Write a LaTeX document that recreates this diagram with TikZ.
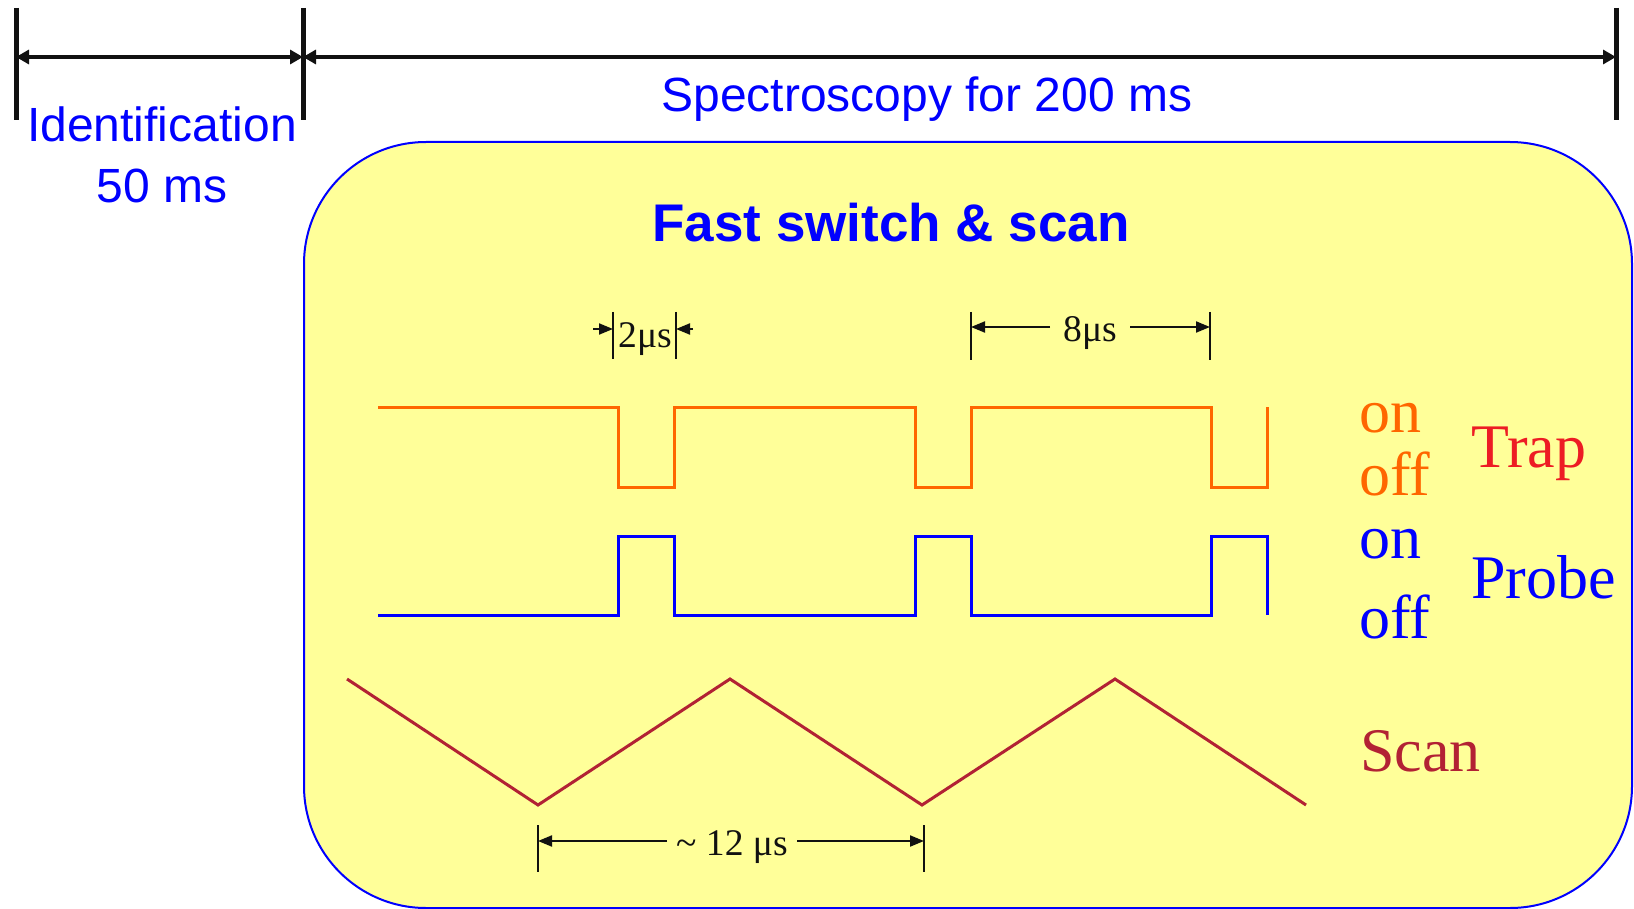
\documentclass[tikz,border=0pt]{standalone}
\usepackage{fontspec}
\setmainfont{Liberation Serif}
\setsansfont{Liberation Sans}
\usetikzlibrary{arrows.meta, positioning}
\definecolor{cblue}{HTML}{0000FF}
\definecolor{corange}{HTML}{FF6600}
\definecolor{cred}{HTML}{ED1C24}
\definecolor{cscan}{HTML}{B22234}
\definecolor{cyellow}{HTML}{FFFF99}
\definecolor{cblack}{HTML}{111111}
\tikzset{
  tick/.style={draw=cblack, line width=2.5pt},
  span/.style={{Triangle[length=6.5pt, width=7pt]}-{Triangle[length=6.5pt, width=7pt]}, draw=cblack, line width=1.6pt},
  dimtick/.style={draw=cblack, line width=0.6pt},
  dim/.style={-{Triangle[length=7pt, width=5.5pt]}, draw=cblack, line width=1pt},
  dimlabel/.style={font=\fontsize{18.8}{20}\selectfont, text=cblack, inner sep=0pt, anchor=base},
  head/.style={font=\sffamily\fontsize{24}{28}\selectfont, text=cblue, inner sep=0pt, anchor=base},
  panel/.style={draw=cblue, fill=cyellow, line width=1pt, rounded corners=61pt},
  wave/.style={line width=1.5pt, line join=miter},
  level/.style={font=\fontsize{31}{34}\selectfont, inner sep=0pt, anchor=base west},
}

\begin{document}
\begin{tikzpicture}[x=0.5pt, y=-0.5pt]
  \useasboundingbox (0,0) rectangle (1634,909);
  % time line: identification, then spectroscopy
  \coordinate (ta) at (16,57);
  \coordinate (tb) at (303,57);
  \coordinate (tc) at (1616,57);
  \foreach \c in {ta,tb,tc}
    \draw[tick] ([yshift=24.5pt]\c) -- ([yshift=-31.5pt]\c);
  \draw[span] (ta) -- (tb);
  \draw[span] (tb) -- (tc);
  \node[head] (ident) at (162,142) {Identification};
  \node[head] (identms) at (162,203) {50 ms};
  \node[head] (spec) at (927,112) {Spectroscopy for 200 ms};
  % yellow panel
  \draw[panel] (304,142) rectangle (1632,908);
  \node[font=\sffamily\bfseries\fontsize{26.5}{30}\selectfont, text=cblue, inner sep=0pt, anchor=base] (title) at (891,242) {Fast switch \& scan};
  % trap, probe and scan signals
  \draw[wave, corange] (378,407) \foreach \x in {618,915,1211} { -- (\x,407) -- (\x,487) -- (\x+56,487) -- (\x+56,407) };
  \draw[wave, cblue] (378,615) \foreach \x in {618,915,1211} { -- (\x,615) -- (\x,536) -- (\x+56,536) -- (\x+56,615) };
  \draw[wave, cscan] (347,679) -- (538,805) -- (730,679) -- (922,805) -- (1115,679) -- (1306,805);
  \node[level, text=corange] (trapon) at (1359,432) {on};
  \node[level, text=corange] (trapoff) at (1359,495) {off};
  \node[level, text=cred] (trap) at (1471,467) {Trap};
  \node[level, text=cblue] (probeon) at (1359,558) {on};
  \node[level, text=cblue] (probeoff) at (1359,638) {off};
  \node[level, text=cblue] (probe) at (1471,598) {Probe};
  \node[level, text=cscan] (scan) at (1360,771) {Scan};
  % 2 us
  \coordinate (pa) at (613,329);
  \coordinate (pb) at (676,329);
  \foreach \c in {pa,pb}
    \draw[dimtick] ([yshift=8.5pt]\c) -- ([yshift=-15pt]\c);
  \draw[dim] ([xshift=-10pt]pa) -- (pa);
  \draw[dim] ([xshift=8.5pt]pb) -- (pb);
  \node[dimlabel] (twous) at (645,348) {2μs};
  % 8 us
  \coordinate (ea) at (971,327);
  \coordinate (eb) at (1210,327);
  \coordinate (ea0) at (1050,327);
  \coordinate (eb0) at (1130,327);
  \foreach \c in {ea,eb}
    \draw[dimtick] ([yshift=7.5pt]\c) -- ([yshift=-16.5pt]\c);
  \draw[dim] (ea0) -- (ea);
  \draw[dim] (eb0) -- (eb);
  \node[dimlabel] (eightus) at (1090,342) {8μs};
  % 12 us
  \coordinate (ma) at (538,841);
  \coordinate (mb) at (924,841);
  \coordinate (ma0) at (667,841);
  \coordinate (mb0) at (797,841);
  \foreach \c in {ma,mb}
    \draw[dimtick] ([yshift=8pt]\c) -- ([yshift=-15.5pt]\c);
  \draw[dim] (ma0) -- (ma);
  \draw[dim] (mb0) -- (mb);
  \node[dimlabel] (twelveus) at (732,855) {\textasciitilde{} 12 μs};
\end{tikzpicture}
\end{document}
